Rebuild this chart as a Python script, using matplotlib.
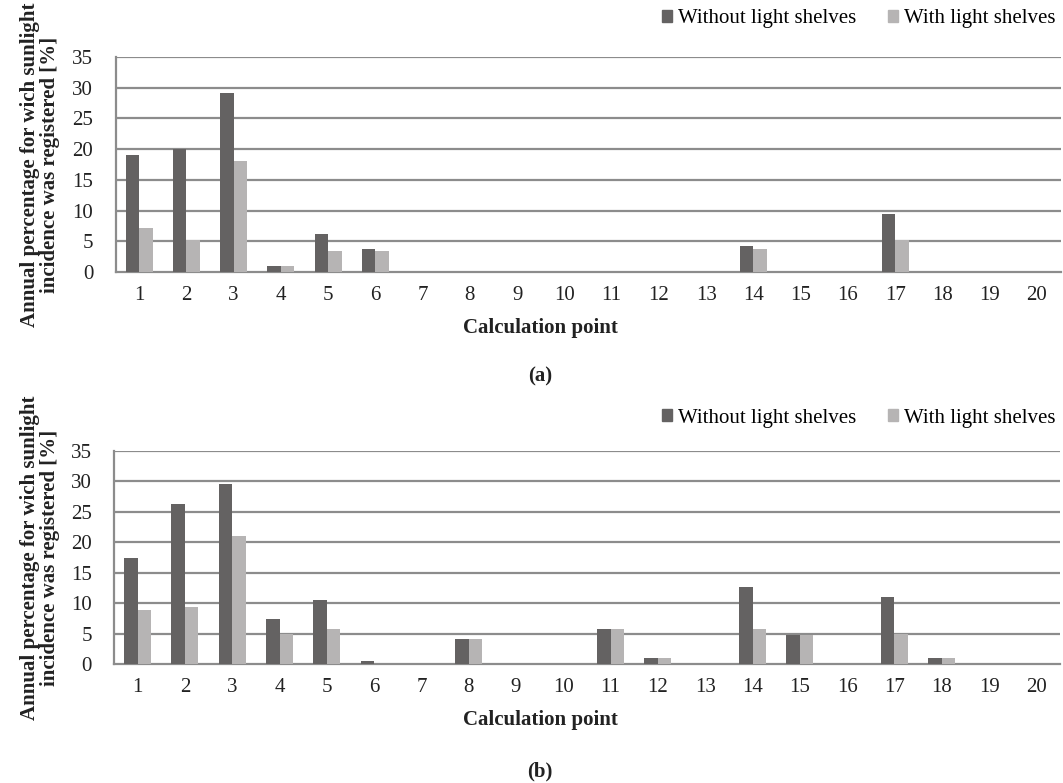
import numpy as np
import matplotlib
matplotlib.use("Agg")
import matplotlib.pyplot as plt
from matplotlib.patches import Patch

plt.rcParams['font.family'] = ['Liberation Serif', 'DejaVu Serif']

# data
points = list(range(1, 21))
a_without = [19.0, 20.0, 29.1, 0.9, 6.2, 3.8, 0, 0, 0, 0, 0, 0, 0, 4.3, 0, 0, 9.5, 0, 0, 0]
a_with = [7.1, 5.2, 18.1, 0.9, 3.4, 3.4, 0, 0, 0, 0, 0, 0, 0, 3.8, 0, 0, 5.2, 0, 0, 0]
b_without = [17.4, 26.3, 29.5, 7.4, 10.5, 0.5, 0, 4.2, 0, 0, 5.8, 1.0, 0, 12.6, 4.8, 0, 11.0, 1.0, 0, 0]
b_with = [8.9, 9.4, 21.0, 4.9, 5.8, 0, 0, 4.2, 0, 0, 5.8, 1.0, 0, 5.8, 4.8, 0, 4.9, 1.0, 0, 0]
yticks = [0, 5, 10, 15, 20, 25, 30, 35]

dark = "#646262"
light = "#b6b4b4"
gridc = "#8c8c8c"
W, H = 1063, 783

fig = plt.figure(figsize=(W / 100, H / 100), dpi=100)

ylab = "Annual percentage for wich sunlight\nincidence was registered [%]"


def panel(rect, without, withls, tag, legend_y, tag_y, xl_y):
    ax = fig.add_axes(rect)
    x = np.array(points)
    bw = 0.286
    ax.bar(x - bw / 2, without, bw, color=dark, zorder=3)
    ax.bar(x + bw / 2, withls, bw, color=light, zorder=3)
    ax.set_xlim(0.5, 20.5)
    ax.set_ylim(0, 35)
    ax.set_yticks(yticks)
    ax.set_xticks(points)
    ax.tick_params(length=0, labelsize=15, colors="#222222")
    ax.tick_params(axis="x", pad=10)
    ax.tick_params(axis="y", pad=16)
    for yv in yticks[1:]:
        ax.axhline(yv, color=gridc, lw=1.6, zorder=1)
    for s in ["top", "right"]:
        ax.spines[s].set_visible(False)
    ax.spines["left"].set_color(gridc)
    ax.spines["left"].set_linewidth(1.6)
    ax.spines["bottom"].set_color(gridc)
    ax.spines["bottom"].set_linewidth(1.6)

    yc = rect[1] + rect[3] / 2
    fig.text(40 / W, yc, ylab, rotation=90, ha="center", va="center",
             multialignment="center", fontsize=15, fontweight="bold",
             linespacing=1.0, color="#222222")
    fig.text(540 / W, 1 - xl_y / H, "Calculation point", ha="center", va="center",
             fontsize=15, fontweight="bold", color="#222222")
    fig.text(540 / W, 1 - tag_y / H, tag, ha="center", va="center",
             fontsize=15, fontweight="bold", color="#222222")

    handles = [Patch(color=dark, label="Without light shelves"),
               Patch(color=light, label="With light shelves")]
    fig.legend(handles=handles, loc="center right", ncol=2, frameon=False,
               bbox_to_anchor=(1056 / W, 1 - legend_y / H), fontsize=15,
               handlelength=0.5, handleheight=0.5, handletextpad=0.3,
               columnspacing=1.5, borderaxespad=0, borderpad=0)
    return ax


panel([115.5 / W, 1 - 272 / H, 945 / W, 215 / H], a_without, a_with, "(a)", 19, 376, 328)
panel([114 / W, 1 - 664.3 / H, 946 / W, 213.6 / H], b_without, b_with, "(b)", 418, 771, 720)

fig.savefig("out.png", dpi=100, facecolor="white")
